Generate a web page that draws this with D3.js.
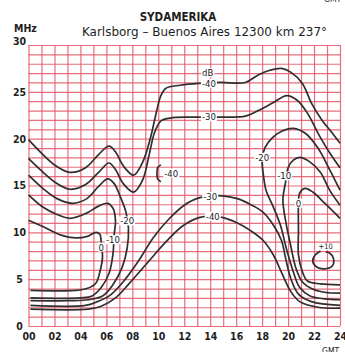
<!DOCTYPE html>
<html>
<head>
<meta charset="utf-8">
<script src="https://cdn.jsdelivr.net/npm/d3@7"></script>
<style>
  body { margin: 0; background: #fff; }
  svg { display: block; }
  text { font-family: "DejaVu Sans Condensed", "DejaVu Sans", sans-serif; fill: #1e1e1e; }
</style>
</head>
<body>
<div id="chart"></div>
<script>
// x = hour (GMT), y = frequency (MHz)
const hourTicks = d3.range(0, 25, 2);
const mhzTicks = [0, 5, 10, 15, 20, 25, 30];

// contour lines, [hour, MHz]
const top40 = [[0,19.9],[0.9,18.6],[2.1,17.1],[3.2,16.4],[4.4,16.9],[5.4,18.3],[6.2,19.2],[6.7,18.6],[7.3,17.1],[8.1,16.1],[8.8,17.5],[9.4,20.1],[9.8,22.5],[10.2,24.6],[10.6,25.4],[11.7,25.7],[13.1,25.9],[14.8,26.0],[16.7,26.0],[17.7,26.8],[18.6,27.3],[19.5,27.5],[20.2,27.1],[21.1,25.9],[21.8,23.8],[22.6,22.0],[23.4,20.6],[24,19.5]];
const top30 = [[0,17.9],[0.9,16.7],[2.1,15.3],[3.2,14.6],[4.4,15.1],[5.4,16.4],[6.2,17.4],[6.7,16.7],[7.3,15.2],[8.1,14.3],[8.8,15.6],[9.3,18.3],[9.7,20.6],[10.2,21.9],[10.9,22.2],[12.5,22.3],[15.2,22.3],[16.7,22.4],[17.7,23.0],[18.8,23.8],[19.9,24.6],[20.7,24.1],[21.5,22.7],[22.3,20.6],[23.2,18.5],[24,16.9]];
const left20 = [[0,16.1],[1.1,14.7],[2.2,13.6],[3.4,13.1],[4.5,13.6],[5.4,14.9],[6.1,15.7],[6.6,15.2],[7.1,13.7],[7.5,12.2],[7.7,10.5],[7.6,8.3],[7.2,6.2],[6.5,4.4],[5.7,3.2],[4.6,2.8],[3.2,2.7],[0.15,2.7]];
const left10 = [[0,14.0],[1.1,12.7],[2.2,11.9],[3.2,11.5],[4.4,12.0],[5.4,12.8],[6.1,13.1],[6.5,12.6],[6.7,11.3],[6.6,9.7],[6.5,7.6],[6.2,5.6],[5.6,4.1],[4.9,3.2],[4.0,3.0],[0.15,3.0]];
const left0 = [[0,11.3],[1.3,10.5],[2.5,9.7],[3.6,9.4],[4.6,9.6],[5.2,10.0],[5.5,9.8],[5.6,9.0],[5.7,7.3],[5.5,5.8],[5.2,4.6],[4.5,4.0],[3.6,3.8],[0.15,3.8]];
const low30 = [[0.15,2.2],[4.4,2.2],[5.3,2.6],[6.3,3.3],[7.4,4.9],[8.5,7.0],[9.6,9.4],[10.8,11.4],[12.0,12.9],[13.2,13.7],[14.9,13.9],[16.1,13.6],[17.2,12.9],[18.1,12.1],[18.9,10.7],[19.5,9.1],[19.8,7.3],[20.2,5.1],[20.8,3.4],[21.8,2.6],[24,2.2]];
const low40 = [[0.15,1.8],[4.6,1.8],[5.6,2.1],[6.7,3.0],[7.8,4.6],[9.2,6.8],[10.6,9.0],[11.9,10.7],[13.2,11.6],[14.9,11.6],[16.1,11.0],[17.2,10.1],[18.1,9.1],[18.9,7.5],[19.5,5.7],[20.2,3.7],[20.9,2.6],[22.3,2.0],[24,1.9]];
const right20 = [[24,14.5],[23.2,16.7],[22.3,19.0],[21.3,20.6],[20.4,21.1],[19.5,20.8],[18.8,20.1],[18.2,19.0],[18.0,17.7],[18.1,16.1],[18.3,14.5],[18.8,12.9],[19.4,10.8],[19.9,8.1],[20.4,5.8],[20.9,4.1],[21.7,3.2],[22.8,2.9],[24,2.8]];
const right10 = [[24,12.9],[23.2,14.5],[22.5,16.4],[21.7,17.5],[20.9,18.0],[20.4,17.7],[20.0,16.9],[19.8,15.3],[19.6,13.5],[19.8,11.3],[20.2,8.6],[20.6,6.2],[21.1,4.7],[21.8,4.0],[22.8,3.6],[24,3.5]];
const right0 = [[24,11.5],[22.9,13.0],[21.9,14.3],[21.3,14.7],[20.9,14.2],[20.8,12.9],[20.8,10.2],[20.8,7.6],[21.1,5.8],[21.5,4.8],[22.5,4.5],[24,4.4]];
const island40 = [[10.2,17.2],[9.95,16.9],[9.9,16.3],[9.95,15.7],[10.2,15.4]];
const island10 = [[22.5,8.0],[22.1,7.6],[21.9,6.9],[22.2,6.3],[22.8,6.1],[23.4,6.4],[23.5,7.2],[23.2,7.8],[22.9,7.9]];

const contours = [top40, top30, left20, left10, left0, low30, low40, right20, right10, right0, island40, island10];

// contour labels
const labelText = ['dB', '-40', '-30', '-30', '-40', '-20', '-10', '0', '-20', '-10', '0', '-40', '+10'];
const labelHour = [13.8, 13.9, 13.9, 14.0, 14.2, 7.6, 6.5, 5.6, 18.0, 19.7, 20.8, 11.0, 22.9];
const labelMhz  = [27.0, 25.9, 22.3, 13.8, 11.7, 11.2, 9.2, 8.4, 18.0, 16.0, 13.1, 16.3, 8.5];

const width = 345;
const height = 352;

const svg = d3.select('#chart')
  .append('svg')
  .attr('width', width)
  .attr('height', height);

const x = d3.scaleLinear().domain([0, 24]).range([28.5, 340]);
const y = d3.scaleLinear().domain([0, 30]).range([326, 45]);

// red grid, one line per hour and per MHz
const gridColor = '#e25566';

const gx = svg.append('g')
  .attr('transform', `translate(0,${y(0)})`)
  .call(d3.axisBottom(x).tickValues(d3.range(0, 25)).tickSize(-(y(0) - y(30))).tickFormat(''));
gx.select('.domain').remove();

const gy = svg.append('g')
  .attr('transform', `translate(${x(0)},0)`)
  .call(d3.axisLeft(y).tickValues(d3.range(0, 31)).tickSize(-(x(24) - x(0))).tickFormat(''));
gy.select('.domain').remove();

svg.selectAll('.tick line')
  .attr('stroke', gridColor)
  .attr('stroke-width', 1.2)
  .attr('stroke-opacity', 0.85);

// hour labels
const ax = svg.append('g')
  .attr('transform', `translate(0,${y(0)})`)
  .call(d3.axisBottom(x).tickValues(hourTicks).tickSize(0).tickPadding(7).tickFormat(d3.format('02d')));
ax.select('.domain').remove();
ax.selectAll('text')
  .style('font-family', '"DejaVu Sans Condensed", "DejaVu Sans", sans-serif')
  .attr('font-size', 10.5)
  .attr('font-weight', 'bold')
  .attr('fill', '#1e1e1e');

// MHz labels
const ay = svg.append('g')
  .attr('transform', `translate(${x(0)},0)`)
  .call(d3.axisLeft(y).tickValues(mhzTicks).tickSize(0).tickFormat(d3.format('d')));
ay.select('.domain').remove();
ay.selectAll('text')
  .style('font-family', '"DejaVu Sans Condensed", "DejaVu Sans", sans-serif')
  .attr('font-size', 10.5)
  .attr('font-weight', 'bold')
  .attr('fill', '#1e1e1e')
  .attr('text-anchor', 'middle')
  .attr('x', -9)
  .attr('dy', d => d === 30 ? '-0.05em' : '0.32em');

// contour lines
const line = d3.line()
  .x(d => x(d[0]))
  .y(d => y(d[1]))
  .curve(d3.curveCatmullRom.alpha(0.5));

svg.append('g')
  .selectAll('path')
  .data(contours)
  .enter()
  .append('path')
  .attr('d', line)
  .attr('fill', 'none')
  .attr('stroke', '#2f2f2f')
  .attr('stroke-width', 1.7)
  .attr('stroke-linejoin', 'round');

// labels on the contours, white behind
const lab = svg.append('g')
  .selectAll('g')
  .data(labelText.map((t, i) => ({ t, h: labelHour[i], f: labelMhz[i] })))
  .enter()
  .append('g')
  .attr('transform', d => `translate(${x(d.h)},${y(d.f)})`);

lab.append('rect').attr('fill', '#fff');
lab.append('text')
  .attr('text-anchor', 'middle')
  .attr('dy', '0.35em')
  .attr('font-size', d => d.t === '+10' ? 7.5 : 9.5)
  .text(d => d.t);

lab.each(function() {
  const g = d3.select(this);
  const b = g.select('text').node().getBBox();
  g.select('rect')
    .attr('x', b.x - 1)
    .attr('y', b.y + 1)
    .attr('width', b.width + 2)
    .attr('height', b.height - 2);
});

// titles
svg.append('text')
  .attr('x', 178)
  .attr('y', 21)
  .attr('text-anchor', 'middle')
  .attr('font-size', 11.5)
  .attr('font-weight', 'bold')
  .text('SYDAMERIKA');

svg.append('text')
  .attr('x', 82)
  .attr('y', 36)
  .attr('font-size', 12)
  .attr('textLength', 245)
  .attr('lengthAdjust', 'spacingAndGlyphs')
  .text('Karlsborg – Buenos Aires 12300 km 237°');

svg.append('text')
  .attr('x', 14)
  .attr('y', 32)
  .attr('font-size', 10.5)
  .attr('font-weight', 'bold')
  .text('MHz');

svg.append('text')
  .attr('x', 322)
  .attr('y', 354)
  .attr('font-size', 8.5)
  .text('GMT');

svg.append('text')
  .attr('x', 324)
  .attr('y', 2)
  .attr('font-size', 8.5)
  .attr('fill', '#666')
  .text('GMT');
</script>
</body>
</html>
